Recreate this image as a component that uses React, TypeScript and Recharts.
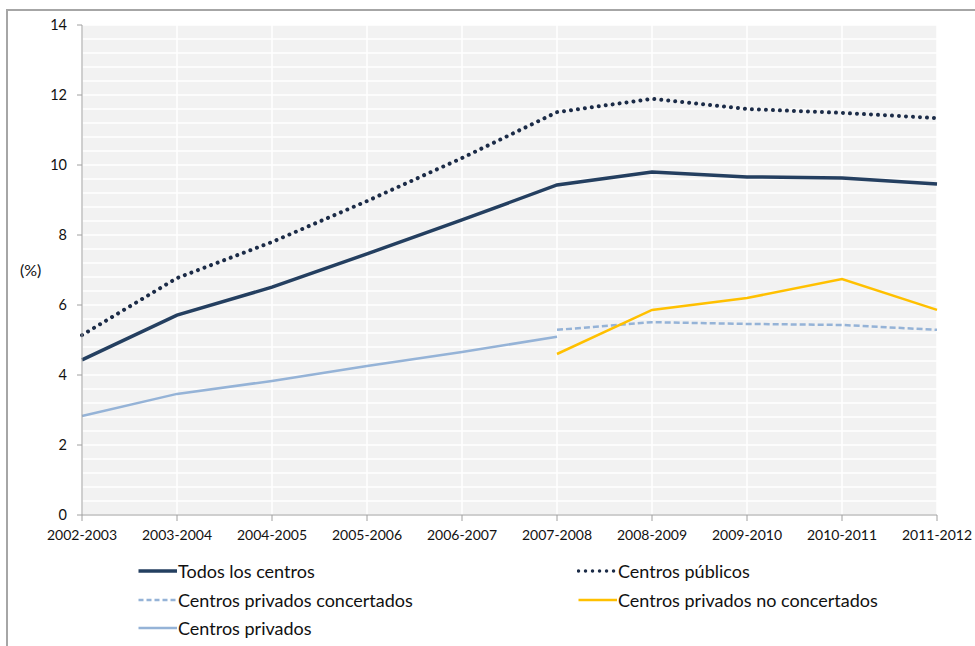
import React from 'react';
import {
  LineChart,
  Line,
  XAxis,
  YAxis,
  CartesianGrid,
} from 'recharts';

const years = [
  '2002-2003',
  '2003-2004',
  '2004-2005',
  '2005-2006',
  '2006-2007',
  '2007-2008',
  '2008-2009',
  '2009-2010',
  '2010-2011',
  '2011-2012',
];

const todos = [4.43, 5.71, 6.51, 7.46, 8.43, 9.43, 9.8, 9.66, 9.63, 9.46];
const publicos = [5.14, 6.77, 7.8, 8.97, 10.2, 11.51, 11.89, 11.6, 11.49, 11.34];
const concertados = [null, null, null, null, null, 5.29, 5.51, 5.46, 5.43, 5.29];
const noConcertados = [null, null, null, null, null, 4.6, 5.86, 6.2, 6.74, 5.86];
const privados = [2.83, 3.46, 3.83, 4.26, 4.66, 5.09, null, null, null, null];

const yTicks = [0, 2, 4, 6, 8, 10, 12, 14];
const gridValues = Array.from({ length: 36 }, (_, i) => Math.round(i * 4) / 10);

const data = years.map((year, i) => ({
  year,
  todos: todos[i],
  publicos: publicos[i],
  concertados: concertados[i],
  noConcertados: noConcertados[i],
  privados: privados[i],
}));

const NAVY = '#243F60';
const DOTS = '#1B2B47';
const LIGHT = '#95B3D7';
const GOLD = '#FFC000';
const FONT = 'Lato, "Open Sans", sans-serif';

// plot box (chart margin top 25, plot height 490)
const PLOT_TOP = 25;
const PLOT_H = 490;

const legendItems = [
  { name: 'Todos los centros', color: NAVY, dash: undefined, width: 3.5, cap: 'butt' },
  { name: 'Centros públicos', color: DOTS, dash: '0.01 7', width: 3.5, cap: 'round' },
  { name: 'Centros privados concertados', color: LIGHT, dash: '5 3', width: 2.5, cap: 'butt' },
  { name: 'Centros privados no concertados', color: GOLD, dash: undefined, width: 2.5, cap: 'butt' },
  { name: 'Centros privados', color: LIGHT, dash: undefined, width: 2.5, cap: 'butt' },
];

function LegendBlock() {
  return (
    <div
      style={{
        position: 'absolute',
        left: 137,
        top: 557,
        display: 'grid',
        gridTemplateColumns: '440px 360px',
        fontFamily: FONT,
        fontSize: 18,
        color: '#111',
      }}
    >
      {legendItems.map((it) => (
        <div key={it.name} style={{ display: 'flex', alignItems: 'center', height: 28.5 }}>
          <svg width={41} height={10} style={{ marginRight: 0 }}>
            <line
              x1={1.5}
              y1={5}
              x2={40}
              y2={5}
              stroke={it.color}
              strokeWidth={it.width}
              strokeDasharray={it.dash}
              strokeLinecap={it.cap as any}
            />
          </svg>
          <span>{it.name}</span>
        </div>
      ))}
    </div>
  );
}

export default function App() {
  return (
    <div
      style={{
        position: 'absolute',
        left: 0,
        top: 0,
        width: 975,
        height: 646,
        overflow: 'hidden',
        background: '#fff',
      }}
    >
      <div
        style={{
          position: 'absolute',
          left: 6,
          top: 9,
          width: 1100,
          height: 800,
          border: '2px solid #a6a6a6',
        }}
      />
      <div style={{ position: 'absolute', left: 0, top: 0 }}>
        <LineChart
          width={975}
          height={560}
          data={data}
          margin={{ top: PLOT_TOP, right: 38, bottom: 0, left: 0 }}
        >
          <CartesianGrid
            fill="#f2f2f2"
            stroke="#ffffff"
            strokeWidth={1.5}
            horizontalPoints={gridValues.map((v) => PLOT_TOP + PLOT_H * (1 - v / 14))}
          />
          <XAxis
            dataKey="year"
            interval={0}
            height={45}
            stroke="#a0a0a0"
            tickSize={6}
            tickMargin={9}
            tick={{ fill: '#111', fontSize: 14, fontFamily: FONT }}
          />
          <YAxis
            width={82}
            domain={[0, 14]}
            ticks={yTicks}
            stroke="#a0a0a0"
            tickSize={5}
            tickMargin={10}
            tick={{ fill: '#111', fontSize: 14.5, fontFamily: FONT }}
            label={{
              value: '(%)',
              position: 'insideLeft',
              offset: 20,
              angle: 0,
              style: { fill: '#111', fontSize: 16, fontFamily: FONT },
            }}
          />
          <Line
            dataKey="privados"
            stroke={LIGHT}
            strokeWidth={2.5}
            dot={false}
            isAnimationActive={false}
          />
          <Line
            dataKey="concertados"
            stroke={LIGHT}
            strokeWidth={2.5}
            strokeDasharray="6 3"
            dot={false}
            isAnimationActive={false}
          />
          <Line
            dataKey="noConcertados"
            stroke={GOLD}
            strokeWidth={2.5}
            dot={false}
            isAnimationActive={false}
          />
          <Line
            dataKey="todos"
            stroke={NAVY}
            strokeWidth={3.5}
            dot={false}
            isAnimationActive={false}
          />
          <Line
            dataKey="publicos"
            stroke={DOTS}
            strokeWidth={4}
            strokeDasharray="0.01 7"
            strokeLinecap="round"
            dot={false}
            isAnimationActive={false}
          />
        </LineChart>
      </div>
      <LegendBlock />
    </div>
  );
}
